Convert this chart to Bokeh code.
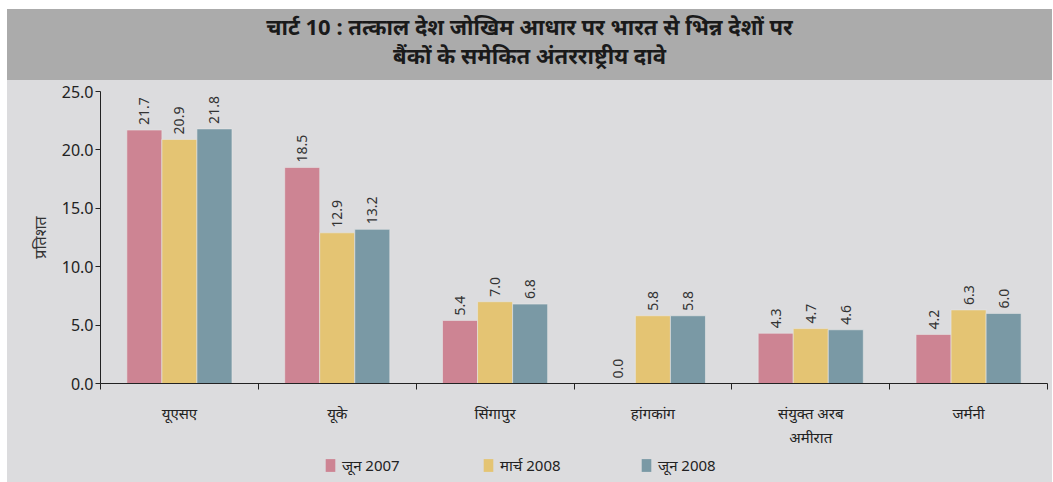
from bokeh.plotting import figure
from bokeh.models import (Range1d, FixedTicker, LinearAxis, Div, Legend, LegendItem,
                          ColumnDataSource)
from bokeh.layouts import column
from bokeh.embed import file_html
from bokeh.resources import INLINE
from bokeh.core.properties import value

categories = ["यूएसए", "यूके", "सिंगापुर", "हांगकांग", "संयुक्त अरब\nअमीरात", "जर्मनी"]
series_names = ["जून 2007", "मार्च 2008", "जून 2008"]
jun2007 = [21.7, 18.5, 5.4, 0.0, 4.3, 4.2]
mar2008 = [20.9, 12.9, 7.0, 5.8, 4.7, 6.3]
jun2008 = [21.8, 13.2, 6.8, 5.8, 4.6, 6.0]
y_ticks = [0, 5, 10, 15, 20, 25]
title_lines = ["चार्ट 10 :  तत्काल देश जोखिम आधार पर भारत से भिन्न देशों पर",
               "बैंकों के समेकित अंतरराष्ट्रीय दावे"]
y_label = "प्रतिशत"

colors = ["#CD8493", "#E4C473", "#7A99A5"]
BG = "#DCDCDE"
W = 1045
FONT = "Noto Sans"

title = Div(
    text=('<div style="width:%dpx;height:71px;background:#ABABAB;text-align:center;'
          'font-family:\'Noto Sans\';font-weight:bold;font-size:22px;line-height:29px;'
          'color:#1a1a1a;padding-top:3px;box-sizing:border-box;">%s<br>%s</div>')
    % (W, title_lines[0], title_lines[1]),
    width=W, height=71, margin=0)

p = figure(width=W, height=369, x_range=Range1d(0, 6), y_range=Range1d(0, 25),
           x_axis_type=None, output_backend="svg", toolbar_location=None,
           min_border_left=93, min_border_right=5, min_border_top=11,
           min_border_bottom=63, background_fill_color=BG, border_fill_color=BG,
           outline_line_color=None, margin=0)
p.grid.visible = False

# y axis
ya = p.yaxis[0]
ya.ticker = FixedTicker(ticks=y_ticks)
ya.major_label_overrides = {t: "%.1f" % t for t in y_ticks}
ya.minor_tick_line_color = None
ya.major_tick_in = 0
ya.major_tick_out = 5
ya.axis_line_color = "#222222"
ya.major_tick_line_color = "#222222"
ya.major_label_text_font = FONT
ya.major_label_text_font_size = "16px"
ya.major_label_text_color = "#222222"
ya.major_label_standoff = 2
ya.axis_label = y_label
ya.axis_label_text_font = FONT
ya.axis_label_text_font_size = "16px"
ya.axis_label_text_font_style = "normal"
ya.axis_label_text_color = "#333333"
ya.axis_label_standoff = 8

# x axis with boundary ticks
n = len(categories)
xa1 = LinearAxis(ticker=FixedTicker(ticks=list(range(n + 1))),
                 major_label_overrides={i: "" for i in range(n + 1)},
                 major_tick_in=0, major_tick_out=6, minor_tick_line_color=None,
                 axis_line_color="#222222", major_tick_line_color="#222222",
                 major_label_text_font_size="1px", major_label_standoff=0)
p.add_layout(xa1, "below")
centers = [i + 0.5 for i in range(n)]
xa2 = LinearAxis(ticker=FixedTicker(ticks=centers),
                 major_label_overrides={c: lab for c, lab in zip(centers, categories)},
                 axis_line_color=None, major_tick_line_color=None,
                 minor_tick_line_color=None, major_label_standoff=7,
                 major_label_text_font=FONT, major_label_text_font_size="15px",
                 major_label_text_color="#222222")
p.add_layout(xa2, "below")

bw = 0.222
offsets = [-bw, 0, bw]
for name, vals, col, off in zip(series_names, [jun2007, mar2008, jun2008], colors, offsets):
    src = ColumnDataSource(dict(x=[c + off for c in centers], top=vals,
                                lab=["%.1f" % v for v in vals]))
    p.vbar(x="x", top="top", width=bw, source=src, fill_color=col,
           line_color="#E6E6E6", line_width=1, line_alpha=0.6)
    p.text(x="x", y="top", text="lab", source=src, angle=1.5708, y_offset=-5,
           text_align="left", text_baseline="middle", text_font=value(FONT),
           text_font_size="14px", text_color="#333333")

# legend strip (zero-height legend proxies lie outside the strip's visible range)
lp = figure(width=W, height=33, x_range=Range1d(0, 1), y_range=Range1d(0, 1),
            x_axis_type=None, y_axis_type=None, output_backend="svg",
            toolbar_location=None, min_border_left=93, min_border_right=5,
            min_border_top=0, min_border_bottom=0, background_fill_alpha=0,
            border_fill_alpha=0, outline_line_color=None, margin=0)
lp.grid.visible = False
items = []
for name, col in zip(series_names, colors):
    r = lp.vbar(x=[-50], top=[0], bottom=[0], width=0.1, fill_color=col, line_color=None)
    items.append(LegendItem(label=name, renderers=[r]))
legend = Legend(items=items, orientation="horizontal", location=(224, 7),
                glyph_width=12, glyph_height=16, label_standoff=6, spacing=25,
                label_width=115, label_text_font=FONT, label_text_font_size="15px",
                label_text_color="#222222", background_fill_alpha=0,
                border_line_color=None, padding=4, margin=0)
lp.add_layout(legend, "center")

layout = column(title, p, lp, spacing=0, margin=(9, 0, 0, 7),
                styles={"background-color": BG})
open("out.html", "w").write(file_html(layout, INLINE))
